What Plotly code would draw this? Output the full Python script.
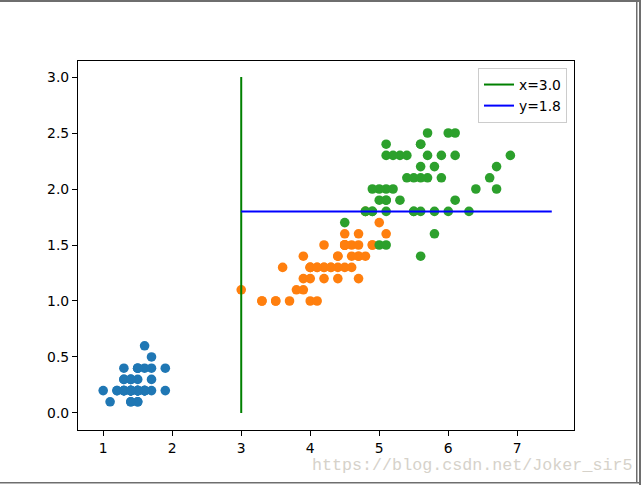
import plotly.graph_objects as go

# Iris petal length / petal width per class
setosa_len = [1.4,1.4,1.3,1.5,1.4,1.7,1.4,1.5,1.4,1.5,1.5,1.6,1.4,1.1,1.2,1.5,1.3,1.4,1.7,1.5,
              1.7,1.5,1.0,1.7,1.9,1.6,1.6,1.5,1.4,1.6,1.6,1.5,1.5,1.4,1.5,1.2,1.3,1.4,1.3,1.5,
              1.3,1.3,1.3,1.6,1.9,1.4,1.6,1.4,1.5,1.4]
setosa_wid = [0.2,0.2,0.2,0.2,0.2,0.4,0.3,0.2,0.2,0.1,0.2,0.2,0.1,0.1,0.2,0.4,0.4,0.3,0.3,0.3,
              0.2,0.4,0.2,0.5,0.2,0.2,0.4,0.2,0.2,0.2,0.2,0.4,0.1,0.2,0.2,0.2,0.2,0.1,0.2,0.2,
              0.3,0.3,0.2,0.6,0.4,0.3,0.2,0.2,0.2,0.2]
versi_len = [4.7,4.5,4.9,4.0,4.6,4.5,4.7,3.3,4.6,3.9,3.5,4.2,4.0,4.7,3.6,4.4,4.5,4.1,4.5,3.9,
             4.8,4.0,4.9,4.7,4.3,4.4,4.8,5.0,4.5,3.5,3.8,3.7,3.9,5.1,4.5,4.5,4.7,4.4,4.1,4.0,
             4.4,4.6,4.0,3.3,4.2,4.2,4.2,4.3,3.0,4.1]
versi_wid = [1.4,1.5,1.5,1.3,1.5,1.3,1.6,1.0,1.3,1.4,1.0,1.5,1.0,1.4,1.3,1.4,1.5,1.0,1.5,1.1,
             1.8,1.3,1.5,1.2,1.3,1.4,1.4,1.7,1.5,1.0,1.1,1.0,1.2,1.6,1.5,1.6,1.5,1.3,1.3,1.3,
             1.2,1.4,1.2,1.0,1.3,1.2,1.3,1.3,1.1,1.3]
virg_len = [6.0,5.1,5.9,5.6,5.8,6.6,4.5,6.3,5.8,6.1,5.1,5.3,5.5,5.0,5.1,5.3,5.5,6.7,6.9,5.0,
            5.7,4.9,6.7,4.9,5.7,6.0,4.8,4.9,5.6,5.8,6.1,6.4,5.6,5.1,5.6,6.1,5.6,5.5,4.8,5.4,
            5.6,5.1,5.1,5.9,5.7,5.2,5.0,5.2,5.4,5.1]
virg_wid = [2.5,1.9,2.1,1.8,2.2,2.1,1.7,1.8,1.8,2.5,2.0,1.9,2.1,2.0,2.4,2.3,1.8,2.2,2.3,1.5,
            2.3,2.0,2.0,1.8,2.1,1.8,1.8,1.8,2.1,1.6,1.9,2.0,2.2,1.5,1.4,2.3,2.4,1.8,1.8,2.1,
            2.4,2.3,1.9,2.3,2.5,2.3,1.9,2.0,2.3,1.8]

vline_x = [3.0, 3.0]
vline_y = [0.0, 3.0]
hline_x = [3.0, 7.5]
hline_y = [1.8, 1.8]
line_names = ["x=3.0", "y=1.8"]

x_ticks = [1, 2, 3, 4, 5, 6, 7]
y_ticks = [0.0, 0.5, 1.0, 1.5, 2.0, 2.5, 3.0]

fig = go.Figure()
for xs, ys, c in [(setosa_len, setosa_wid, "#1f77b4"),
                  (versi_len, versi_wid, "#ff7f0e"),
                  (virg_len, virg_wid, "#2ca02c")]:
    fig.add_trace(go.Scatter(x=xs, y=ys, mode="markers", showlegend=False,
                             marker=dict(color=c, size=9.6, line=dict(width=0))))
fig.add_trace(go.Scatter(x=vline_x, y=vline_y, mode="lines", name=line_names[0],
                         line=dict(color="#008000", width=2)))
fig.add_trace(go.Scatter(x=hline_x, y=hline_y, mode="lines", name=line_names[1],
                         line=dict(color="#0000ff", width=2)))

L, R, T, B = 78, 574, 61, 430
W, H = 641, 485
pw, ph = R - L, B - T
def px(x): return (x - L) / pw
def py(y): return (B - y) / ph

axis_common = dict(showgrid=False, zeroline=False, showline=True, linecolor="black",
                   linewidth=1.1, mirror=True, ticks="outside", ticklen=5, tickwidth=1.1,
                   tickcolor="black", tickfont=dict(family="DejaVu Sans", size=13.9, color="black"))
fig.update_xaxes(range=[0.635, 7.822], tickvals=x_ticks, ticktext=[str(v) for v in x_ticks], **axis_common)
fig.update_yaxes(range=[-0.152, 3.143], tickvals=y_ticks, ticktext=[f"{v:.1f}" for v in y_ticks], **axis_common)

shapes = [
    dict(type="rect", xref="paper", yref="paper", x0=px(0), x1=px(W), y0=py(0), y1=py(2),
         fillcolor="#6e6e6e", line=dict(width=0), layer="above"),
    dict(type="rect", xref="paper", yref="paper", x0=px(636), x1=px(637.5), y0=py(0), y1=py(482),
         fillcolor="#6e6e6e", line=dict(width=0), layer="above"),
    dict(type="rect", xref="paper", yref="paper", x0=px(639), x1=px(641), y0=py(0), y1=py(485),
         fillcolor="#6e6e6e", line=dict(width=0), layer="above"),
    dict(type="rect", xref="paper", yref="paper", x0=px(0), x1=px(641), y0=py(482), y1=py(483.5),
         fillcolor="#6e6e6e", line=dict(width=0), layer="above"),
]

fig.update_layout(
    width=W, height=H,
    margin=dict(l=L, r=W - R, t=T, b=H - B, pad=0),
    paper_bgcolor="white", plot_bgcolor="white",
    font=dict(family="DejaVu Sans", size=13.9, color="black"),
    showlegend=True,
    legend=dict(x=px(567), y=py(68), xanchor="right", yanchor="top",
                bgcolor="rgba(255,255,255,0.8)", bordercolor="#cccccc", borderwidth=1,
                font=dict(family="DejaVu Sans", size=13.9, color="black"),
                itemwidth=30, tracegroupgap=0),
    shapes=shapes,
    annotations=[dict(text="https://blog.csdn.net/Joker_sir5", xref="paper", yref="paper",
                      x=px(310), y=py(465), xanchor="left", yanchor="middle", showarrow=False,
                      font=dict(family="Liberation Mono", size=16.7, color="#d6d2ca"))],
)

fig.write_html("out.html")
